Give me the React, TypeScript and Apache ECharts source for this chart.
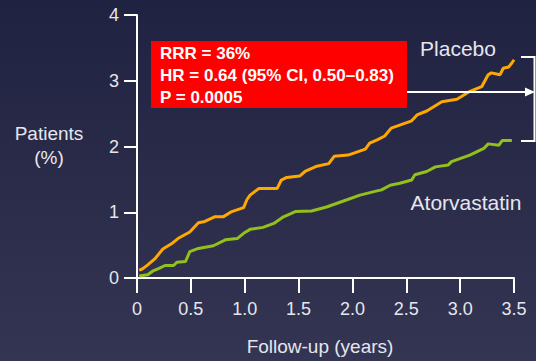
import React, { useEffect, useRef } from "react";
import * as echarts from "echarts";

const placeboT = [0.02, 0.04, 0.06, 0.10, 0.17, 0.24, 0.32, 0.38, 0.49, 0.57, 0.63, 0.72, 0.80, 0.88, 0.99, 1.02, 1.05, 1.13, 1.30, 1.34, 1.39, 1.51, 1.56, 1.67, 1.78, 1.83, 1.96, 2.12, 2.16, 2.23, 2.30, 2.36, 2.55, 2.60, 2.69, 2.83, 2.97, 3.08, 3.20, 3.26, 3.29, 3.37, 3.40, 3.45, 3.48, 3.50];
const placeboV = [0.12, 0.13, 0.15, 0.20, 0.30, 0.44, 0.52, 0.60, 0.70, 0.84, 0.86, 0.93, 0.93, 1.01, 1.07, 1.19, 1.26, 1.36, 1.36, 1.49, 1.53, 1.55, 1.62, 1.70, 1.74, 1.85, 1.87, 1.96, 2.05, 2.10, 2.16, 2.28, 2.39, 2.48, 2.54, 2.68, 2.72, 2.83, 2.91, 3.09, 3.12, 3.09, 3.19, 3.21, 3.27, 3.32];

const atorvaT = [0.02, 0.10, 0.15, 0.21, 0.26, 0.34, 0.37, 0.45, 0.49, 0.57, 0.71, 0.82, 0.93, 0.99, 1.05, 1.17, 1.27, 1.36, 1.47, 1.62, 1.76, 1.95, 2.07, 2.19, 2.27, 2.35, 2.44, 2.55, 2.58, 2.69, 2.77, 2.89, 2.92, 3.09, 3.22, 3.26, 3.36, 3.39, 3.48];
const atorvaV = [0.03, 0.05, 0.11, 0.15, 0.19, 0.19, 0.24, 0.25, 0.40, 0.45, 0.49, 0.58, 0.60, 0.68, 0.74, 0.77, 0.83, 0.93, 1.01, 1.02, 1.08, 1.19, 1.26, 1.31, 1.34, 1.41, 1.44, 1.49, 1.57, 1.62, 1.69, 1.72, 1.77, 1.87, 1.97, 2.04, 2.02, 2.09, 2.09];

const xTickLabels = ["0", "0.5", "1.0", "1.5", "2.0", "2.5", "3.0", "3.5"];
const yTickLabels = ["0", "1", "2", "3", "4"];

const statsLines = ["RRR = 36%", "HR = 0.64 (95% CI, 0.50\u20130.83)", "P = 0.0005"];
const seriesNames = ["Placebo", "Atorvastatin"];
const yAxisTitle = ["Patients", "(%)"];
const xAxisTitle = "Follow-up (years)";

const FONT = "'Liberation Sans', Arial, sans-serif";
const TXT = "#e6e6ee";

export default function App() {
  const ref = useRef<HTMLDivElement>(null);
  useEffect(() => {
    document.body.style.margin = "0";
    const chart = echarts.init(ref.current!, undefined, { renderer: "svg" });
    const pData = placeboT.map((t, i) => [t, placeboV[i]]);
    const aData = atorvaT.map((t, i) => [t, atorvaV[i]]);
    chart.setOption({
      animation: false,
      backgroundColor: {
        type: "linear", x: 0, y: 0, x2: 0, y2: 1,
        colorStops: [
          { offset: 0, color: "#202241" },
          { offset: 1, color: "#333552" },
        ],
      },
      grid: { left: 137, right: 22, top: 15, bottom: 83 },
      xAxis: {
        type: "value", min: 0, max: 3.5, interval: 0.5,
        axisLine: { show: true, onZero: false, lineStyle: { color: "#ffffff", width: 2 } },
        axisTick: { show: true, length: 15, lineStyle: { color: "#ffffff", width: 2 } },
        splitLine: { show: false },
        axisLabel: {
          color: TXT, fontSize: 18, fontFamily: FONT, margin: 22,
          formatter: (v: number) => xTickLabels[Math.round(v / 0.5)] ?? "",
        },
      },
      yAxis: {
        type: "value", min: 0, max: 4, interval: 1,
        axisLine: { show: true, lineStyle: { color: "#ffffff", width: 2 } },
        axisTick: { show: true, length: 13, lineStyle: { color: "#ffffff", width: 2 } },
        splitLine: { show: false },
        axisLabel: {
          color: TXT, fontSize: 18, fontFamily: FONT, margin: 18,
          formatter: (v: number) => yTickLabels[Math.round(v)] ?? "",
        },
      },
      series: [
        {
          name: seriesNames[0], type: "line", data: pData, showSymbol: false,
          lineStyle: { color: "#ffa800", width: 3 }, z: 3,
        },
        {
          name: seriesNames[1], type: "line", data: aData, showSymbol: false,
          lineStyle: { color: "#93c11c", width: 3 }, z: 3,
        },
      ],
      graphic: [
        { type: "rect", shape: { x: 151, y: 41, width: 256, height: 67 }, style: { fill: "#ff0000" }, z: 10 },
        ...statsLines.map((s, i) => ({
          type: "text", x: 160, y: 53.5 + i * 22, z: 11,
          style: { text: s, fill: "#ffffff", font: `bold 17px ${FONT}`, textVerticalAlign: "middle", textAlign: "left" },
        })),
        { type: "line", shape: { x1: 407, y1: 92, x2: 528, y2: 92 }, style: { stroke: "#ffffff", lineWidth: 2 }, z: 10 },
        { type: "polygon", shape: { points: [[535, 92], [525, 87.5], [525, 96.5]] }, style: { fill: "#ffffff" }, z: 10 },
        { type: "polyline", shape: { points: [[521, 57], [534.5, 57], [534.5, 141], [521, 141]] }, style: { stroke: "#ffffff", lineWidth: 2, fill: null }, z: 10 },
        {
          type: "text", x: 458, y: 48, z: 11,
          style: { text: seriesNames[0], fill: TXT, font: `21px ${FONT}`, textAlign: "center", textVerticalAlign: "middle" },
        },
        {
          type: "text", x: 466, y: 202, z: 11,
          style: { text: seriesNames[1], fill: TXT, font: `21px ${FONT}`, textAlign: "center", textVerticalAlign: "middle" },
        },
        ...yAxisTitle.map((s, i) => ({
          type: "text", x: 49, y: 133 + i * 24, z: 11,
          style: { text: s, fill: TXT, font: `19px ${FONT}`, textAlign: "center", textVerticalAlign: "middle" },
        })),
        {
          type: "text", x: 320, y: 346, z: 11,
          style: { text: xAxisTitle, fill: TXT, font: `19px ${FONT}`, textAlign: "center", textVerticalAlign: "middle" },
        },
      ],
    });
    return () => chart.dispose();
  }, []);
  return <div ref={ref} style={{ width: 536, height: 361, position: "absolute", left: 0, top: 0 }} />;
}
